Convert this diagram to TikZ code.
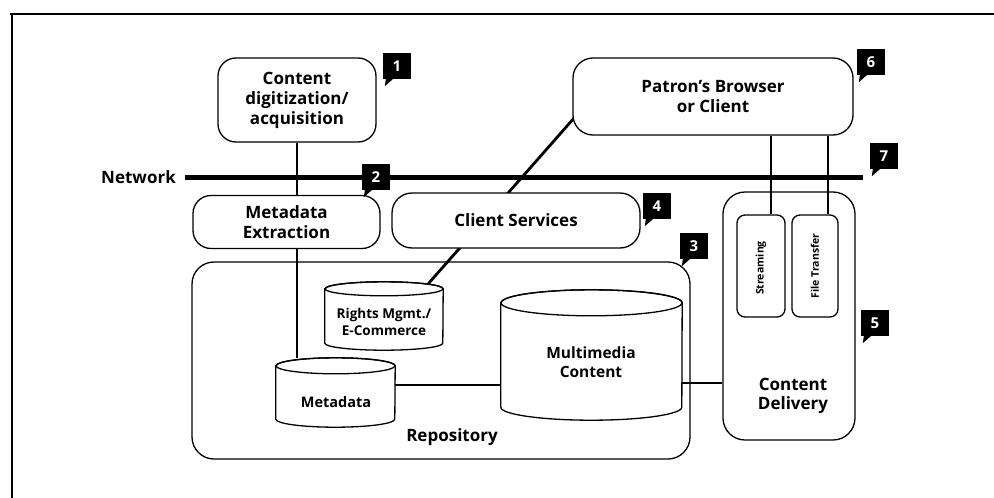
\documentclass[tikz,border=0pt]{standalone}
\usepackage{fontspec}
\usepackage{graphicx}
\setmainfont{Open Sans}
\usetikzlibrary{backgrounds,calc}
\pgfdeclarelayer{bg}
\pgfdeclarelayer{mid}
\pgfsetlayers{bg,mid,main}
\tikzset{
  box/.style={draw, line width=1.3pt, rounded corners=18pt, align=center,
    font=\bfseries\fontsize{17}{20}\selectfont, inner sep=0pt, fill=white},
  conn/.style={line width=2.8pt},
  outl/.style={line width=1.3pt, fill=white},
  lbl/.style={font=\bfseries\fontsize{17}{19.5}\selectfont, align=center, inner sep=0pt},
  small/.style={font=\bfseries\fontsize{13.5}{17}\selectfont, align=center, inner sep=0pt},
  tiny/.style={font=\bfseries\fontsize{10.5}{11}\selectfont, inner sep=0pt},
  badgebox/.style={fill=black, text=white, font=\bfseries\fontsize{15}{15}\selectfont,
    minimum width=28pt, minimum height=26pt, inner sep=0pt},
  holder/.style={inner sep=0pt, draw=none}
}
\newcommand{\badge}[4]{%
  \node[badgebox] (#1) at (#2,#3) {#4};
  \fill ([xshift=3pt]#1.south west) -- ++(7pt,0) -- ++(-8pt,-7pt) -- cycle;}
\newcommand{\drawcyl}[3]{%
  \draw[outl] ($(#1.north west)+(0,-#3)$) -- ($(#1.south west)+(0,#3)$)
     arc[start angle=180, end angle=360, x radius=#2, y radius=#3]
     -- ($(#1.north east)+(0,-#3)$)
     arc[start angle=0, end angle=180, x radius=#2, y radius=#3] -- cycle;
  \draw[line width=1.3pt] ($(#1.north)+(0,-#3)$) ellipse[x radius=#2, y radius=#3];}
\begin{document}
\begin{tikzpicture}[x=1pt,y=1pt]
\useasboundingbox (0,0) rectangle (994,-498);
% frame
\draw[line width=2pt] (10,-14) -- (994,-14);
\draw[line width=2pt] (12,-14) -- (12,-498);

% boxes
\node[box, minimum width=158pt, minimum height=84pt] (cda) at (297,-100) {Content\\digitization/\\acquisition};
\node[box, minimum width=187pt, minimum height=53pt] (mex) at (286.5,-222) {Metadata\\Extraction};
\node[box, minimum width=248pt, minimum height=55pt, rounded corners=20pt] (cs) at (516,-220.5) {Client Services};
\node[box, minimum width=280pt, minimum height=77pt, rounded corners=20pt] (pat) at (713,-96.5) {Patron's Browser\\or Client};
\node[draw, line width=1.3pt, rounded corners=22pt, minimum width=498pt, minimum height=197pt, inner sep=0pt] (repo) at (441,-360.5) {};
\node[lbl] (repolbl) at (452,-437) {Repository};
\node[draw, line width=1.3pt, rounded corners=22pt, minimum width=132pt, minimum height=248pt, inner sep=0pt] (cd) at (789,-316) {};
\node[lbl] (cdlbl) at (793,-396) {Content\\Delivery};
\node[box, rounded corners=8pt, minimum width=48pt, minimum height=102pt] (stream) at (761,-266) {};
\node[tiny] (streamlbl) at (761,-268) {\rotatebox{90}{Streaming}};
\node[box, rounded corners=8pt, minimum width=46pt, minimum height=102pt] (ft) at (815,-266) {};
\node[tiny] (ftlbl) at (815,-266) {\rotatebox{90}{File Transfer}};

% cylinders
\node[holder, minimum width=118pt, minimum height=68pt] (rights) at (384,-316) {};
\node[holder, minimum width=119pt, minimum height=69pt] (meta) at (335.5,-392.5) {};
\node[holder, minimum width=181pt, minimum height=130pt] (mm) at (591.5,-355) {};
\begin{pgfonlayer}{mid}
\drawcyl{rights}{59pt}{7pt}
\drawcyl{meta}{59.5pt}{8pt}
\drawcyl{mm}{90.5pt}{13pt}
\end{pgfonlayer}
\node[small] (rightslbl) at (384,-322) {Rights Mgmt./\\E-Commerce};
\node[small, font=\bfseries\fontsize{14.5}{17}\selectfont] (metalbl) at (336,-402) {Metadata};
\node[small, font=\bfseries\fontsize{15.5}{19}\selectfont] (mmlbl) at (591,-362) {Multimedia\\Content};

% network
\coordinate (netL) at (185,-177);
\coordinate (netR) at (863,-177);
\node[lbl, anchor=east] (netlbl) at ([xshift=-9pt]netL) {Network};

% connectors
\begin{pgfonlayer}{bg}
\draw[line width=5pt] (netL) -- (netR);
\draw[conn] (cda.south) -- (cda.south |- mex.north);
\draw[conn] (cda.south |- mex.south) -- (cda.south |- meta.north);
\draw[conn] ([shift={(18pt,-3pt)}]pat.west) -- ([shift={(30pt,16pt)}]rights.center);
\draw[conn] ([xshift=10pt]stream.north) -- ([xshift=10pt]stream.north |- pat.south);
\draw[conn] ([xshift=13pt]ft.north) -- ([xshift=13pt]ft.north |- pat.south);
\draw[conn] ([yshift=7.5pt]meta.east) -- ([yshift=7.5pt]meta.east -| mm.west);
\draw[conn] ([yshift=-28pt]mm.east) -- ([yshift=-28pt]mm.east -| cd.west);
\end{pgfonlayer}

% badges
\badge{b1}{397}{-66}{1}
\badge{b2}{376}{-177}{2}
\badge{b3}{694}{-246}{3}
\badge{b4}{657}{-206}{4}
\badge{b5}{875}{-323}{5}
\badge{b6}{871}{-62}{6}
\badge{b7}{884}{-156}{7}
\end{tikzpicture}
\end{document}
